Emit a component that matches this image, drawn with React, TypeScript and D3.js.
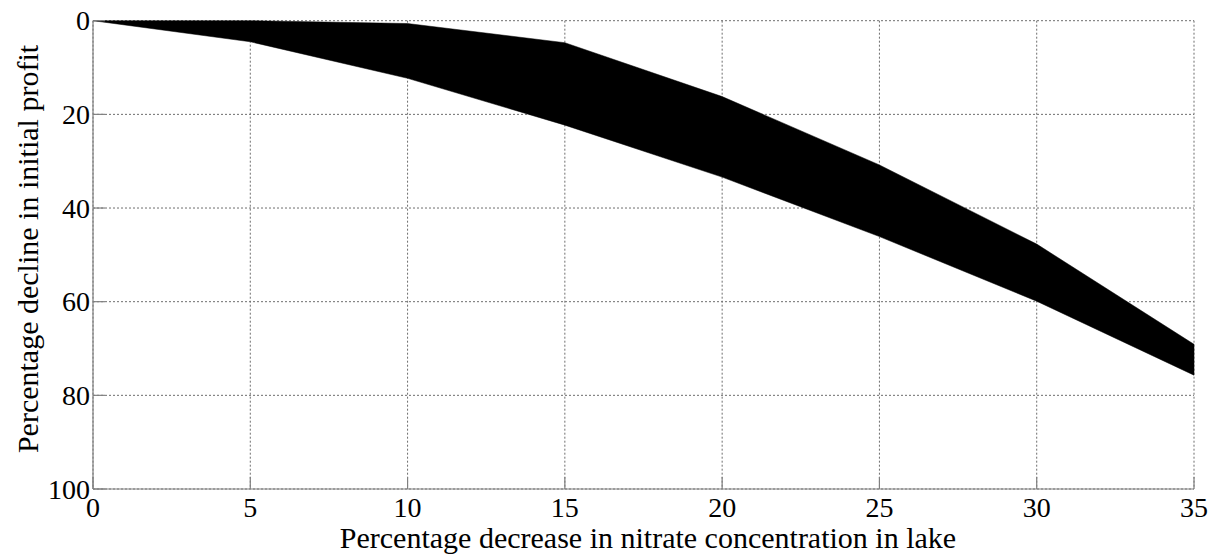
import React from "react";
import * as d3 from "d3";

const xValues = [0, 5, 10, 15, 20, 25, 30, 35];
const minDecline = [0, 0, 0.6, 4.7, 16.2, 30.8, 47.7, 69.1];
const maxDecline = [0, 4.5, 12.3, 22.3, 33.4, 46.1, 59.9, 75.7];
const xTicks = [0, 5, 10, 15, 20, 25, 30, 35];
const yTicks = [0, 20, 40, 60, 80, 100];
const xLabel = "Percentage decrease in nitrate concentration in lake";
const yLabel = "Percentage decline in initial profit";

const W = 1222;
const H = 558;
const left = 93;
const right = 1194;
const top = 20.7;
const bottom = 489;

export default function App() {
  const x = d3.scaleLinear().domain([0, 35]).range([left, right]);
  const y = d3.scaleLinear().domain([0, 100]).range([top, bottom]);
  const rows = xValues.map((v, i) => ({ x: v, lo: minDecline[i], hi: maxDecline[i] }));
  const area = d3
    .area<{ x: number; lo: number; hi: number }>()
    .x((d) => x(d.x))
    .y0((d) => y(d.lo))
    .y1((d) => y(d.hi));
  const font = "'Liberation Serif', 'Times New Roman', serif";
  const gridColor = "#6e6e6e";
  const axisColor = "#808080";
  return (
    <svg
      width={W}
      height={H}
      style={{ position: "absolute", left: 0, top: 0, display: "block", background: "#fff" }}
    >
      <rect x={0} y={0} width={W} height={H} fill="#fff" />
      {/* grid */}
      {xTicks.map((t) => (
        <line
          key={"gx" + t}
          x1={x(t)}
          x2={x(t)}
          y1={top}
          y2={bottom}
          stroke={gridColor}
          strokeWidth={1}
          strokeDasharray="2,2"
        />
      ))}
      {yTicks.map((t) => (
        <line
          key={"gy" + t}
          x1={left}
          x2={right}
          y1={y(t)}
          y2={y(t)}
          stroke={gridColor}
          strokeWidth={1}
          strokeDasharray="2,2"
        />
      ))}
      {/* band */}
      <path d={area(rows) || ""} fill="#000" stroke="#000" strokeWidth={0.5} />
      {/* axes */}
      <line x1={left} x2={left} y1={top} y2={bottom} stroke={axisColor} strokeWidth={1.2} />
      <line x1={left} x2={right} y1={bottom} y2={bottom} stroke={axisColor} strokeWidth={1.2} />
      {xTicks.map((t) => (
        <line key={"tx" + t} x1={x(t)} x2={x(t)} y1={bottom} y2={bottom - 12} stroke={axisColor} strokeWidth={1.2} />
      ))}
      {yTicks.map((t) => (
        <line key={"ty" + t} x1={left} x2={left + 12} y1={y(t)} y2={y(t)} stroke={axisColor} strokeWidth={1.2} />
      ))}
      {/* tick labels */}
      {xTicks.map((t) => (
        <text
          key={"lx" + t}
          x={x(t)}
          y={bottom + 28}
          textAnchor="middle"
          fontFamily={font}
          fontSize={28}
          fill="#000"
        >
          {t}
        </text>
      ))}
      {yTicks.map((t) => (
        <text
          key={"ly" + t}
          x={90}
          y={y(t) + 9.5}
          textAnchor="end"
          fontFamily={font}
          fontSize={28}
          fill="#000"
        >
          {t}
        </text>
      ))}
      {/* axis labels */}
      <text x={648} y={547.5} textAnchor="middle" fontFamily={font} fontSize={30} fill="#000">
        {xLabel}
      </text>
      <text
        transform={`translate(38, 249) rotate(-90)`}
        textAnchor="middle"
        fontFamily={font}
        fontSize={30}
        fill="#000"
      >
        {yLabel}
      </text>
    </svg>
  );
}
